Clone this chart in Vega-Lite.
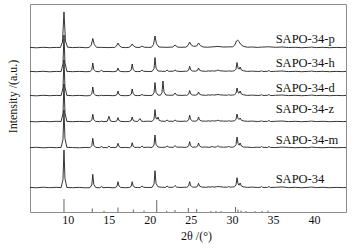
{
"$schema": "https://vega.github.io/schema/vega-lite/v6.json",
"width": 316, "height": 208,
"autosize": {"type": "none"},
"padding": {"left": 30, "top": 4, "right": 7, "bottom": 40},
"config": {"view": {"stroke": "#8c8c8c", "strokeWidth": 1}, "font": "Liberation Serif",
 "axisX": {"values": [10,20,30,40], "ticks": false, "domain": false, "grid": false, "labelFont": "Liberation Serif", "labelFontSize": 12, "labelColor": "#111", "labelPadding": 2, "titleFont": "Liberation Serif", "titleFontSize": 12, "titleFontWeight": "normal", "titleColor": "#111", "titleX": 166, "titleY": 27.5, "titleBaseline": "alphabetic"},
 "axisY": {"labels": false, "ticks": false, "domain": false, "grid": false, "titleFont": "Liberation Serif", "titleFontSize": 12, "titleFontWeight": "normal", "titleColor": "#111", "titleX": -11, "titleY": 92}
},
"datasets": {
"sticks": [
{"x":9.54,"h":13},{"x":12.99,"h":3.5},{"x":14.42,"h":1.2},{"x":16.12,"h":4.5},{"x":17.99,"h":2.5},{"x":19.29,"h":1.5},{"x":20.84,"h":12},{"x":22.05,"h":1.2},{"x":23.07,"h":2},{"x":24.69,"h":4},{"x":25.71,"h":3},{"x":27.45,"h":1},{"x":28.06,"h":1},{"x":28.67,"h":1},{"x":30.44,"h":5},{"x":30.74,"h":2.5},{"x":31.11,"h":1.5},{"x":31.72,"h":1},{"x":32.81,"h":1},{"x":33.67,"h":1},{"x":34.4,"h":1.5}
],
"labels": [
{"t":"SAPO-34-p","x":35.33,"y":169},{"t":"SAPO-34-h","x":35.33,"y":145.5},{"t":"SAPO-34-d","x":35.33,"y":120},{"t":"SAPO-34-z","x":35.33,"y":99},{"t":"SAPO-34-m","x":35.33,"y":68},{"t":"SAPO-34","x":35.33,"y":29}
],
"traces": [
{"s":"a","x":5.4,"y":24.6},{"s":"a","x":6.2,"y":24.2},{"s":"a","x":7.0,"y":24.8},{"s":"a","x":7.8,"y":24.3},{"s":"a","x":8.6,"y":24.7},{"s":"a","x":9.19,"y":24.4},{"s":"a","x":9.42,"y":32.4},{"s":"a","x":9.54,"y":62},{"s":"a","x":9.66,"y":33.5},{"s":"a","x":9.89,"y":24.5},{"s":"a","x":10.6,"y":24.3},{"s":"a","x":11.4,"y":24.6},{"s":"a","x":12.2,"y":24.2},{"s":"a","x":12.7,"y":24.4},{"s":"a","x":12.93,"y":27.0},{"s":"a","x":13.05,"y":37.7},{"s":"a","x":13.17,"y":27.7},{"s":"a","x":13.4,"y":24.5},{"s":"a","x":13.9,"y":24.2},{"s":"a","x":14.1,"y":25.5},{"s":"a","x":14.3,"y":24.3},{"s":"a","x":14.9,"y":24.6},{"s":"a","x":15.5,"y":24.2},{"s":"a","x":15.77,"y":24.4},{"s":"a","x":16.0,"y":25.7},{"s":"a","x":16.12,"y":30.3},{"s":"a","x":16.24,"y":26.0},{"s":"a","x":16.47,"y":24.5},{"s":"a","x":17.0,"y":24.3},{"s":"a","x":17.5,"y":24.5},{"s":"a","x":17.73,"y":25.7},{"s":"a","x":17.85,"y":30.3},{"s":"a","x":17.97,"y":26.0},{"s":"a","x":18.2,"y":24.6},{"s":"a","x":18.5,"y":24.4},{"s":"a","x":18.85,"y":24.6},{"s":"a","x":19.05,"y":26.0},{"s":"a","x":19.25,"y":24.7},{"s":"a","x":19.8,"y":24.5},{"s":"a","x":20.28,"y":24.6},{"s":"a","x":20.51,"y":27.9},{"s":"a","x":20.63,"y":41.3},{"s":"a","x":20.75,"y":28.7},{"s":"a","x":21.0,"y":25.2},{"s":"a","x":21.4,"y":24.8},{"s":"a","x":21.9,"y":24.6},{"s":"a","x":22.1,"y":26.0},{"s":"a","x":22.3,"y":24.7},{"s":"a","x":22.87,"y":24.8},{"s":"a","x":23.07,"y":26.5},{"s":"a","x":23.27,"y":24.9},{"s":"a","x":23.8,"y":24.5},{"s":"a","x":24.3,"y":24.8},{"s":"a","x":24.5,"y":24.7},{"s":"a","x":24.73,"y":26.1},{"s":"a","x":24.85,"y":30.3},{"s":"a","x":24.97,"y":26.4},{"s":"a","x":25.2,"y":25.0},{"s":"a","x":25.5,"y":24.8},{"s":"a","x":25.6,"y":24.9},{"s":"a","x":25.81,"y":25.7},{"s":"a","x":25.93,"y":28.7},{"s":"a","x":26.05,"y":26.0},{"s":"a","x":26.3,"y":25.0},{"s":"a","x":26.8,"y":24.7},{"s":"a","x":27.2,"y":25.1},{"s":"a","x":27.45,"y":24.8},{"s":"a","x":27.6,"y":25.5},{"s":"a","x":27.8,"y":24.9},{"s":"a","x":28.1,"y":25.2},{"s":"a","x":28.3,"y":25.5},{"s":"a","x":28.5,"y":25.3},{"s":"a","x":29.0,"y":24.9},{"s":"a","x":29.45,"y":24.8},{"s":"a","x":29.6,"y":25.5},{"s":"a","x":29.8,"y":24.8},{"s":"a","x":30.1,"y":25.0},{"s":"a","x":30.3,"y":25.2},{"s":"a","x":30.5,"y":27.1},{"s":"a","x":30.62,"y":34.3},{"s":"a","x":30.75,"y":28.1},{"s":"a","x":30.87,"y":26.8},{"s":"a","x":31.0,"y":29.0},{"s":"a","x":31.15,"y":26.0},{"s":"a","x":31.4,"y":25.2},{"s":"a","x":31.9,"y":24.6},{"s":"a","x":32.5,"y":24.9},{"s":"a","x":33.1,"y":24.5},{"s":"a","x":33.45,"y":24.7},{"s":"a","x":33.6,"y":25.5},{"s":"a","x":33.75,"y":24.6},{"s":"a","x":34.35,"y":24.6},{"s":"a","x":34.5,"y":25.5},{"s":"a","x":34.7,"y":24.5},{"s":"a","x":35.3,"y":24.7},{"s":"a","x":36.1,"y":25.1},{"s":"a","x":36.9,"y":24.4},{"s":"a","x":37.7,"y":24.7},{"s":"a","x":38.5,"y":24.3},{"s":"a","x":39.3,"y":24.6},{"s":"a","x":39.7,"y":25.0},{"s":"a","x":40.3,"y":24.4},{"s":"a","x":41.1,"y":24.7},{"s":"a","x":41.9,"y":24.3},{"s":"a","x":42.7,"y":24.6},{"s":"a","x":43.5,"y":24.4},{"s":"a","x":43.9,"y":24.5},

{"s":"m","x":5.4,"y":64.4},{"s":"m","x":6.2,"y":64.7},{"s":"m","x":7.0,"y":64.2},{"s":"m","x":7.8,"y":64.6},{"s":"m","x":8.6,"y":64.3},{"s":"m","x":9.19,"y":64.6},{"s":"m","x":9.42,"y":72.4},{"s":"m","x":9.54,"y":102},{"s":"m","x":9.66,"y":73.5},{"s":"m","x":9.89,"y":64.7},{"s":"m","x":10.6,"y":64.5},{"s":"m","x":11.4,"y":64.2},{"s":"m","x":12.2,"y":64.6},{"s":"m","x":12.7,"y":64.3},{"s":"m","x":12.93,"y":66.2},{"s":"m","x":13.05,"y":73.7},{"s":"m","x":13.17,"y":66.7},{"s":"m","x":13.4,"y":64.6},{"s":"m","x":13.9,"y":64.4},{"s":"m","x":14.1,"y":65.5},{"s":"m","x":14.3,"y":64.5},{"s":"m","x":14.8,"y":64.3},{"s":"m","x":15.02,"y":66.0},{"s":"m","x":15.2,"y":64.5},{"s":"m","x":15.5,"y":64.6},{"s":"m","x":15.77,"y":64.3},{"s":"m","x":16.0,"y":65.3},{"s":"m","x":16.12,"y":68.7},{"s":"m","x":16.24,"y":65.6},{"s":"m","x":16.47,"y":64.4},{"s":"m","x":17.0,"y":64.6},{"s":"m","x":17.5,"y":64.3},{"s":"m","x":17.73,"y":65.4},{"s":"m","x":17.85,"y":69.3},{"s":"m","x":17.97,"y":65.8},{"s":"m","x":18.2,"y":64.5},{"s":"m","x":18.5,"y":64.7},{"s":"m","x":18.85,"y":64.5},{"s":"m","x":19.05,"y":66.0},{"s":"m","x":19.25,"y":64.6},{"s":"m","x":19.8,"y":64.8},{"s":"m","x":20.28,"y":64.5},{"s":"m","x":20.51,"y":67.0},{"s":"m","x":20.63,"y":77.0},{"s":"m","x":20.75,"y":67.7},{"s":"m","x":21.0,"y":65.0},{"s":"m","x":21.4,"y":64.6},{"s":"m","x":21.9,"y":64.8},{"s":"m","x":22.1,"y":66.0},{"s":"m","x":22.3,"y":64.9},{"s":"m","x":22.87,"y":64.6},{"s":"m","x":23.07,"y":66.5},{"s":"m","x":23.27,"y":64.8},{"s":"m","x":23.8,"y":64.9},{"s":"m","x":24.3,"y":64.6},{"s":"m","x":24.5,"y":64.9},{"s":"m","x":24.73,"y":66.0},{"s":"m","x":24.85,"y":70.3},{"s":"m","x":24.97,"y":66.4},{"s":"m","x":25.2,"y":64.8},{"s":"m","x":25.5,"y":65.0},{"s":"m","x":25.6,"y":64.8},{"s":"m","x":25.81,"y":65.8},{"s":"m","x":25.93,"y":69.0},{"s":"m","x":26.05,"y":66.1},{"s":"m","x":26.3,"y":64.9},{"s":"m","x":26.8,"y":65.0},{"s":"m","x":27.2,"y":64.7},{"s":"m","x":27.45,"y":65.0},{"s":"m","x":27.6,"y":65.6},{"s":"m","x":27.8,"y":64.8},{"s":"m","x":28.1,"y":65.0},{"s":"m","x":28.3,"y":66.2},{"s":"m","x":28.5,"y":65.1},{"s":"m","x":29.0,"y":64.8},{"s":"m","x":29.45,"y":65.0},{"s":"m","x":29.6,"y":65.6},{"s":"m","x":29.8,"y":64.9},{"s":"m","x":30.1,"y":64.8},{"s":"m","x":30.3,"y":65.3},{"s":"m","x":30.5,"y":67.3},{"s":"m","x":30.62,"y":75.0},{"s":"m","x":30.75,"y":68.5},{"s":"m","x":30.87,"y":66.8},{"s":"m","x":31.0,"y":69.0},{"s":"m","x":31.15,"y":66.0},{"s":"m","x":31.4,"y":65.0},{"s":"m","x":31.9,"y":64.8},{"s":"m","x":32.5,"y":64.5},{"s":"m","x":33.1,"y":64.8},{"s":"m","x":33.45,"y":64.6},{"s":"m","x":33.6,"y":65.5},{"s":"m","x":33.75,"y":64.7},{"s":"m","x":34.35,"y":64.5},{"s":"m","x":34.5,"y":65.5},{"s":"m","x":34.7,"y":64.6},{"s":"m","x":35.3,"y":64.4},{"s":"m","x":36.1,"y":64.9},{"s":"m","x":36.9,"y":64.6},{"s":"m","x":37.7,"y":64.3},{"s":"m","x":38.5,"y":64.6},{"s":"m","x":39.3,"y":64.3},{"s":"m","x":39.7,"y":64.9},{"s":"m","x":40.3,"y":64.5},{"s":"m","x":41.1,"y":64.3},{"s":"m","x":41.9,"y":64.6},{"s":"m","x":42.7,"y":64.3},{"s":"m","x":43.5,"y":64.5},{"s":"m","x":43.9,"y":64.4},

{"s":"z","x":5.4,"y":90.5},{"s":"z","x":6.2,"y":90.2},{"s":"z","x":7.0,"y":90.6},{"s":"z","x":7.8,"y":90.3},{"s":"z","x":8.6,"y":90.7},{"s":"z","x":9.19,"y":90.5},{"s":"z","x":9.42,"y":98.4},{"s":"z","x":9.54,"y":128},{"s":"z","x":9.66,"y":99.5},{"s":"z","x":9.89,"y":90.6},{"s":"z","x":10.6,"y":90.3},{"s":"z","x":11.4,"y":90.6},{"s":"z","x":12.2,"y":90.3},{"s":"z","x":12.7,"y":90.5},{"s":"z","x":12.93,"y":91.9},{"s":"z","x":13.05,"y":97.7},{"s":"z","x":13.17,"y":92.3},{"s":"z","x":13.4,"y":90.6},{"s":"z","x":13.9,"y":90.3},{"s":"z","x":14.1,"y":90.9},{"s":"z","x":14.3,"y":90.4},{"s":"z","x":14.8,"y":90.6},{"s":"z","x":15.02,"y":95.7},{"s":"z","x":15.2,"y":91.0},{"s":"z","x":15.5,"y":90.5},{"s":"z","x":15.77,"y":90.4},{"s":"z","x":16.0,"y":91.3},{"s":"z","x":16.12,"y":94.4},{"s":"z","x":16.24,"y":91.5},{"s":"z","x":16.47,"y":90.6},{"s":"z","x":17.0,"y":90.4},{"s":"z","x":17.5,"y":90.6},{"s":"z","x":17.73,"y":91.4},{"s":"z","x":17.85,"y":95.0},{"s":"z","x":17.97,"y":91.6},{"s":"z","x":18.2,"y":90.7},{"s":"z","x":18.5,"y":90.5},{"s":"z","x":18.8,"y":93.4},{"s":"z","x":19.0,"y":90.7},{"s":"z","x":19.25,"y":90.6},{"s":"z","x":19.8,"y":90.8},{"s":"z","x":20.28,"y":90.6},{"s":"z","x":20.51,"y":92.9},{"s":"z","x":20.63,"y":102.4},{"s":"z","x":20.75,"y":93.5},{"s":"z","x":20.9,"y":93.0},{"s":"z","x":21.0,"y":95.0},{"s":"z","x":21.15,"y":91.5},{"s":"z","x":21.4,"y":90.9},{"s":"z","x":21.9,"y":90.7},{"s":"z","x":22.1,"y":92.0},{"s":"z","x":22.3,"y":90.8},{"s":"z","x":22.87,"y":90.7},{"s":"z","x":23.07,"y":92.0},{"s":"z","x":23.27,"y":90.9},{"s":"z","x":23.8,"y":90.6},{"s":"z","x":24.3,"y":90.9},{"s":"z","x":24.5,"y":90.7},{"s":"z","x":24.73,"y":92.1},{"s":"z","x":24.85,"y":96.7},{"s":"z","x":24.97,"y":92.5},{"s":"z","x":25.2,"y":91.0},{"s":"z","x":25.5,"y":90.8},{"s":"z","x":25.6,"y":90.9},{"s":"z","x":25.81,"y":91.8},{"s":"z","x":25.93,"y":95.0},{"s":"z","x":26.05,"y":92.1},{"s":"z","x":26.3,"y":91.0},{"s":"z","x":26.8,"y":90.8},{"s":"z","x":27.2,"y":91.1},{"s":"z","x":27.45,"y":90.8},{"s":"z","x":27.6,"y":91.4},{"s":"z","x":27.8,"y":90.9},{"s":"z","x":28.1,"y":91.2},{"s":"z","x":28.3,"y":91.8},{"s":"z","x":28.5,"y":91.1},{"s":"z","x":29.0,"y":90.9},{"s":"z","x":29.45,"y":90.8},{"s":"z","x":29.6,"y":91.3},{"s":"z","x":29.8,"y":90.8},{"s":"z","x":30.1,"y":91.0},{"s":"z","x":30.3,"y":91.2},{"s":"z","x":30.5,"y":92.6},{"s":"z","x":30.62,"y":98.0},{"s":"z","x":30.75,"y":93.5},{"s":"z","x":30.87,"y":92.5},{"s":"z","x":31.0,"y":94.0},{"s":"z","x":31.15,"y":91.8},{"s":"z","x":31.4,"y":91.1},{"s":"z","x":31.9,"y":90.7},{"s":"z","x":32.5,"y":90.9},{"s":"z","x":33.1,"y":90.5},{"s":"z","x":33.45,"y":90.7},{"s":"z","x":33.6,"y":91.2},{"s":"z","x":33.75,"y":90.6},{"s":"z","x":34.35,"y":90.6},{"s":"z","x":34.5,"y":91.5},{"s":"z","x":34.7,"y":90.5},{"s":"z","x":35.3,"y":90.7},{"s":"z","x":36.1,"y":91.0},{"s":"z","x":36.9,"y":90.4},{"s":"z","x":37.7,"y":90.7},{"s":"z","x":38.5,"y":90.3},{"s":"z","x":39.3,"y":90.6},{"s":"z","x":39.7,"y":90.9},{"s":"z","x":40.3,"y":90.4},{"s":"z","x":41.1,"y":90.7},{"s":"z","x":41.9,"y":90.3},{"s":"z","x":42.7,"y":90.6},{"s":"z","x":43.5,"y":90.4},{"s":"z","x":43.9,"y":90.5},

{"s":"d","x":5.4,"y":116.5},{"s":"d","x":6.2,"y":116.2},{"s":"d","x":7.0,"y":116.7},{"s":"d","x":7.8,"y":116.3},{"s":"d","x":8.6,"y":116.6},{"s":"d","x":9.19,"y":116.4},{"s":"d","x":9.42,"y":124.0},{"s":"d","x":9.54,"y":152},{"s":"d","x":9.66,"y":125.0},{"s":"d","x":9.89,"y":116.6},{"s":"d","x":10.6,"y":116.3},{"s":"d","x":11.4,"y":116.6},{"s":"d","x":12.2,"y":116.2},{"s":"d","x":12.7,"y":116.4},{"s":"d","x":12.93,"y":118.1},{"s":"d","x":13.05,"y":125.0},{"s":"d","x":13.17,"y":118.6},{"s":"d","x":13.4,"y":116.5},{"s":"d","x":13.9,"y":116.3},{"s":"d","x":14.1,"y":116.8},{"s":"d","x":14.3,"y":116.4},{"s":"d","x":14.9,"y":116.6},{"s":"d","x":15.5,"y":116.3},{"s":"d","x":15.77,"y":116.5},{"s":"d","x":16.0,"y":117.4},{"s":"d","x":16.12,"y":121.0},{"s":"d","x":16.24,"y":117.6},{"s":"d","x":16.47,"y":116.5},{"s":"d","x":17.0,"y":116.3},{"s":"d","x":17.5,"y":116.5},{"s":"d","x":17.73,"y":117.8},{"s":"d","x":17.85,"y":123.0},{"s":"d","x":17.97,"y":118.2},{"s":"d","x":18.2,"y":116.6},{"s":"d","x":18.5,"y":116.4},{"s":"d","x":18.85,"y":116.6},{"s":"d","x":19.05,"y":117.5},{"s":"d","x":19.25,"y":116.7},{"s":"d","x":19.8,"y":116.5},{"s":"d","x":20.28,"y":116.6},{"s":"d","x":20.51,"y":119.1},{"s":"d","x":20.63,"y":129.5},{"s":"d","x":20.75,"y":119.8},{"s":"d","x":21.0,"y":116.9},{"s":"d","x":21.3,"y":116.8},{"s":"d","x":21.48,"y":119.4},{"s":"d","x":21.6,"y":131.0},{"s":"d","x":21.72,"y":120.2},{"s":"d","x":21.95,"y":117.0},{"s":"d","x":22.3,"y":116.8},{"s":"d","x":22.87,"y":116.8},{"s":"d","x":23.07,"y":119.0},{"s":"d","x":23.27,"y":116.9},{"s":"d","x":23.8,"y":116.6},{"s":"d","x":24.3,"y":116.8},{"s":"d","x":24.5,"y":116.7},{"s":"d","x":24.73,"y":117.9},{"s":"d","x":24.85,"y":121.5},{"s":"d","x":24.97,"y":118.2},{"s":"d","x":25.2,"y":117.0},{"s":"d","x":25.5,"y":116.8},{"s":"d","x":25.6,"y":116.9},{"s":"d","x":25.81,"y":117.6},{"s":"d","x":25.93,"y":120.0},{"s":"d","x":26.05,"y":117.8},{"s":"d","x":26.3,"y":117.0},{"s":"d","x":26.8,"y":116.7},{"s":"d","x":27.2,"y":117.1},{"s":"d","x":27.45,"y":116.8},{"s":"d","x":27.6,"y":117.3},{"s":"d","x":27.8,"y":116.9},{"s":"d","x":28.1,"y":117.2},{"s":"d","x":28.3,"y":117.5},{"s":"d","x":28.5,"y":117.2},{"s":"d","x":29.0,"y":116.9},{"s":"d","x":29.45,"y":116.8},{"s":"d","x":29.6,"y":117.3},{"s":"d","x":29.8,"y":116.8},{"s":"d","x":30.1,"y":117.0},{"s":"d","x":30.3,"y":117.2},{"s":"d","x":30.5,"y":118.6},{"s":"d","x":30.62,"y":124.0},{"s":"d","x":30.75,"y":119.5},{"s":"d","x":30.87,"y":118.8},{"s":"d","x":31.0,"y":121.0},{"s":"d","x":31.15,"y":118.0},{"s":"d","x":31.4,"y":117.2},{"s":"d","x":31.9,"y":116.6},{"s":"d","x":32.5,"y":116.9},{"s":"d","x":33.1,"y":116.5},{"s":"d","x":33.45,"y":116.7},{"s":"d","x":33.6,"y":117.3},{"s":"d","x":33.75,"y":116.6},{"s":"d","x":34.35,"y":116.6},{"s":"d","x":34.5,"y":117.5},{"s":"d","x":34.7,"y":116.5},{"s":"d","x":35.3,"y":116.7},{"s":"d","x":36.1,"y":117.0},{"s":"d","x":36.9,"y":116.4},{"s":"d","x":37.7,"y":116.7},{"s":"d","x":38.5,"y":116.3},{"s":"d","x":39.3,"y":116.6},{"s":"d","x":39.7,"y":116.9},{"s":"d","x":40.3,"y":116.4},{"s":"d","x":41.1,"y":116.7},{"s":"d","x":41.9,"y":116.3},{"s":"d","x":42.7,"y":116.6},{"s":"d","x":43.5,"y":116.4},{"s":"d","x":43.9,"y":116.5},

{"s":"h","x":5.4,"y":140.6},{"s":"h","x":6.2,"y":140.3},{"s":"h","x":7.0,"y":140.7},{"s":"h","x":7.8,"y":140.2},{"s":"h","x":8.6,"y":140.6},{"s":"h","x":9.19,"y":140.4},{"s":"h","x":9.42,"y":148.2},{"s":"h","x":9.54,"y":177},{"s":"h","x":9.66,"y":149.3},{"s":"h","x":9.89,"y":140.6},{"s":"h","x":10.6,"y":140.3},{"s":"h","x":11.4,"y":140.6},{"s":"h","x":12.2,"y":140.3},{"s":"h","x":12.7,"y":140.5},{"s":"h","x":12.93,"y":142.1},{"s":"h","x":13.05,"y":149.0},{"s":"h","x":13.17,"y":142.6},{"s":"h","x":13.4,"y":140.5},{"s":"h","x":13.9,"y":140.3},{"s":"h","x":14.1,"y":142.0},{"s":"h","x":14.3,"y":140.4},{"s":"h","x":14.9,"y":140.6},{"s":"h","x":15.5,"y":140.3},{"s":"h","x":15.77,"y":140.5},{"s":"h","x":16.0,"y":141.2},{"s":"h","x":16.12,"y":144.0},{"s":"h","x":16.24,"y":141.4},{"s":"h","x":16.47,"y":140.5},{"s":"h","x":17.0,"y":140.3},{"s":"h","x":17.5,"y":140.5},{"s":"h","x":17.73,"y":142.0},{"s":"h","x":17.85,"y":148.0},{"s":"h","x":17.97,"y":142.4},{"s":"h","x":18.2,"y":140.6},{"s":"h","x":18.5,"y":140.4},{"s":"h","x":18.85,"y":140.6},{"s":"h","x":19.05,"y":142.0},{"s":"h","x":19.25,"y":140.7},{"s":"h","x":19.8,"y":140.5},{"s":"h","x":20.28,"y":140.6},{"s":"h","x":20.51,"y":143.3},{"s":"h","x":20.63,"y":154.5},{"s":"h","x":20.75,"y":144.0},{"s":"h","x":21.0,"y":141.0},{"s":"h","x":21.4,"y":140.8},{"s":"h","x":21.9,"y":140.6},{"s":"h","x":22.1,"y":142.0},{"s":"h","x":22.3,"y":140.7},{"s":"h","x":22.87,"y":140.8},{"s":"h","x":23.07,"y":142.0},{"s":"h","x":23.27,"y":140.9},{"s":"h","x":23.8,"y":140.5},{"s":"h","x":24.3,"y":140.8},{"s":"h","x":24.5,"y":140.7},{"s":"h","x":24.73,"y":141.9},{"s":"h","x":24.85,"y":145.7},{"s":"h","x":24.97,"y":142.2},{"s":"h","x":25.2,"y":141.0},{"s":"h","x":25.5,"y":140.8},{"s":"h","x":25.6,"y":140.9},{"s":"h","x":25.81,"y":141.6},{"s":"h","x":25.93,"y":144.0},{"s":"h","x":26.05,"y":141.8},{"s":"h","x":26.3,"y":141.0},{"s":"h","x":26.8,"y":140.7},{"s":"h","x":27.2,"y":141.1},{"s":"h","x":27.45,"y":140.8},{"s":"h","x":27.6,"y":141.2},{"s":"h","x":27.8,"y":140.9},{"s":"h","x":28.1,"y":141.2},{"s":"h","x":28.3,"y":142.0},{"s":"h","x":28.5,"y":141.3},{"s":"h","x":29.0,"y":140.9},{"s":"h","x":29.45,"y":140.8},{"s":"h","x":29.6,"y":141.2},{"s":"h","x":29.8,"y":140.8},{"s":"h","x":30.1,"y":141.0},{"s":"h","x":30.3,"y":141.2},{"s":"h","x":30.5,"y":142.9},{"s":"h","x":30.62,"y":149.5},{"s":"h","x":30.75,"y":143.8},{"s":"h","x":30.87,"y":142.8},{"s":"h","x":31.0,"y":145.0},{"s":"h","x":31.15,"y":142.0},{"s":"h","x":31.4,"y":141.2},{"s":"h","x":31.9,"y":140.6},{"s":"h","x":32.5,"y":140.9},{"s":"h","x":33.1,"y":140.5},{"s":"h","x":33.45,"y":140.7},{"s":"h","x":33.6,"y":141.2},{"s":"h","x":33.75,"y":140.6},{"s":"h","x":34.35,"y":140.6},{"s":"h","x":34.5,"y":141.5},{"s":"h","x":34.7,"y":140.5},{"s":"h","x":35.3,"y":140.7},{"s":"h","x":36.1,"y":141.0},{"s":"h","x":36.9,"y":140.4},{"s":"h","x":37.7,"y":140.7},{"s":"h","x":38.5,"y":140.3},{"s":"h","x":39.3,"y":140.6},{"s":"h","x":39.7,"y":140.9},{"s":"h","x":40.3,"y":140.4},{"s":"h","x":41.1,"y":140.7},{"s":"h","x":41.9,"y":140.3},{"s":"h","x":42.7,"y":140.6},{"s":"h","x":43.5,"y":140.4},{"s":"h","x":43.9,"y":140.5},

{"s":"p","x":5.4,"y":164.6},{"s":"p","x":6.2,"y":164.2},{"s":"p","x":7.0,"y":164.7},{"s":"p","x":7.8,"y":164.3},{"s":"p","x":8.6,"y":164.6},{"s":"p","x":9.1,"y":164.5},{"s":"p","x":9.36,"y":170.0},{"s":"p","x":9.54,"y":200},{"s":"p","x":9.72,"y":171.0},{"s":"p","x":9.98,"y":164.8},{"s":"p","x":10.6,"y":164.4},{"s":"p","x":11.4,"y":164.7},{"s":"p","x":12.2,"y":164.3},{"s":"p","x":12.6,"y":164.5},{"s":"p","x":12.87,"y":167.0},{"s":"p","x":13.05,"y":173.5},{"s":"p","x":13.23,"y":167.6},{"s":"p","x":13.5,"y":164.7},{"s":"p","x":14.1,"y":164.6},{"s":"p","x":14.9,"y":164.4},{"s":"p","x":15.5,"y":164.6},{"s":"p","x":15.7,"y":164.5},{"s":"p","x":15.94,"y":166.0},{"s":"p","x":16.12,"y":169.0},{"s":"p","x":16.3,"y":166.2},{"s":"p","x":16.55,"y":164.7},{"s":"p","x":17.0,"y":164.4},{"s":"p","x":17.45,"y":164.6},{"s":"p","x":17.67,"y":165.8},{"s":"p","x":17.85,"y":168.0},{"s":"p","x":18.03,"y":166.0},{"s":"p","x":18.3,"y":164.7},{"s":"p","x":18.8,"y":164.6},{"s":"p","x":19.05,"y":166.0},{"s":"p","x":19.3,"y":164.8},{"s":"p","x":19.8,"y":164.6},{"s":"p","x":20.2,"y":164.7},{"s":"p","x":20.45,"y":167.5},{"s":"p","x":20.63,"y":176.0},{"s":"p","x":20.81,"y":168.2},{"s":"p","x":21.1,"y":165.0},{"s":"p","x":21.5,"y":164.8},{"s":"p","x":22.1,"y":164.7},{"s":"p","x":22.8,"y":165.0},{"s":"p","x":23.07,"y":167.0},{"s":"p","x":23.35,"y":165.0},{"s":"p","x":23.8,"y":164.7},{"s":"p","x":24.4,"y":164.9},{"s":"p","x":24.65,"y":166.5},{"s":"p","x":24.85,"y":170.0},{"s":"p","x":25.05,"y":167.0},{"s":"p","x":25.35,"y":165.6},{"s":"p","x":25.7,"y":166.0},{"s":"p","x":25.93,"y":169.0},{"s":"p","x":26.15,"y":166.5},{"s":"p","x":26.5,"y":165.0},{"s":"p","x":27.0,"y":164.8},{"s":"p","x":27.6,"y":165.1},{"s":"p","x":28.3,"y":165.6},{"s":"p","x":28.9,"y":165.0},{"s":"p","x":29.6,"y":165.1},{"s":"p","x":30.1,"y":165.2},{"s":"p","x":30.35,"y":167.0},{"s":"p","x":30.55,"y":171.0},{"s":"p","x":30.7,"y":172.0},{"s":"p","x":30.85,"y":170.5},{"s":"p","x":31.1,"y":167.5},{"s":"p","x":31.4,"y":165.6},{"s":"p","x":31.9,"y":164.8},{"s":"p","x":32.5,"y":165.0},{"s":"p","x":33.1,"y":164.6},{"s":"p","x":33.6,"y":164.9},{"s":"p","x":34.5,"y":165.2},{"s":"p","x":35.3,"y":164.7},{"s":"p","x":36.1,"y":165.0},{"s":"p","x":36.9,"y":164.5},{"s":"p","x":37.7,"y":164.7},{"s":"p","x":38.5,"y":164.3},{"s":"p","x":39.3,"y":164.6},{"s":"p","x":39.7,"y":164.9},{"s":"p","x":40.3,"y":164.4},{"s":"p","x":41.1,"y":164.7},{"s":"p","x":41.9,"y":164.3},{"s":"p","x":42.7,"y":164.6},{"s":"p","x":43.5,"y":164.4},{"s":"p","x":43.9,"y":164.5}
]
},
"layer": [
 {"data": {"name": "sticks"},
  "mark": {"type": "rule", "color": "#666666", "strokeWidth": 1},
  "encoding": {
   "x": {"field": "x", "type": "quantitative", "scale": {"domain": [5.4, 43.9], "nice": false, "zero": false}, "title": "2θ /(°)"},
   "y": {"field": "h", "type": "quantitative", "scale": {"domain": [0, 208], "nice": false}, "title": "Intensity /(a.u.)"},
   "y2": {"datum": 0}
  }},
 {"data": {"name": "traces"},
  "mark": {"type": "line", "color": "#1e1e1e", "strokeWidth": 0.9},
  "encoding": {
   "x": {"field": "x", "type": "quantitative"},
   "y": {"field": "y", "type": "quantitative"},
   "detail": {"field": "s", "type": "nominal"}
  }},
 {"data": {"name": "labels"},
  "mark": {"type": "text", "align": "left", "baseline": "alphabetic", "font": "Liberation Serif", "fontSize": 12.5, "color": "#111"},
  "encoding": {
   "x": {"field": "x", "type": "quantitative"},
   "y": {"field": "y", "type": "quantitative"},
   "text": {"field": "t"}
  }}
]
}
